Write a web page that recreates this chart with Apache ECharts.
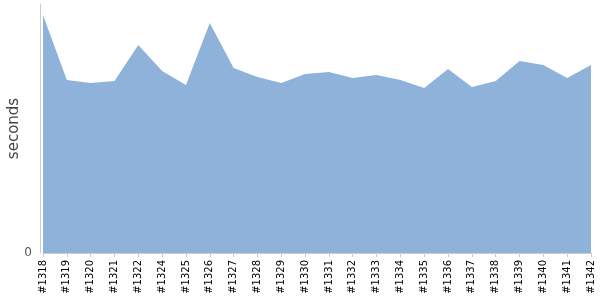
<!DOCTYPE html>
<html><head><meta charset="utf-8">
<script src="https://cdn.jsdelivr.net/npm/echarts@6/dist/echarts.min.js"></script>
<style>html,body{margin:0;padding:0;background:#fff}#c{width:600px;height:300px}</style>
</head><body><div id="c"></div>
<script>
const categories = ['#1318','#1319','#1320','#1321','#1322','#1324','#1325','#1326','#1327','#1328','#1329','#1330','#1331','#1332','#1333','#1334','#1335','#1336','#1337','#1338','#1339','#1340','#1341','#1342'];
const seconds = [238,173,170,172,208,182,168,230,185,176,170,179,181,175,178,173,165,184,166,172,192,188,175,188];
const yTickLabels = ['0'];

const chart = echarts.init(document.getElementById('c'));
chart.setOption({
  animation: false,
  textStyle: {fontFamily: 'DejaVu Sans'},
  grid: {left: 43, right: 9, top: 4, bottom: 47, containLabel: false, outerBoundsMode: 'none'},
  xAxis: {
    type: 'category', data: categories, boundaryGap: false,
    axisLine: {lineStyle: {color: '#cccccc'}},
    axisTick: {alignWithLabel: true, length: 4, lineStyle: {color: '#cccccc'}},
    axisLabel: {rotate: 90, fontSize: 10, color: '#000', interval: 0, margin: 7, fontFamily: 'DejaVu Sans'}
  },
  yAxis: {
    type: 'value', min: 0, max: 249, offset: 3,
    name: 'seconds', nameLocation: 'middle', nameGap: 18, nameMoveOverlap: false,
    nameTextStyle: {fontSize: 15, color: '#444', fontFamily: 'DejaVu Sans'},
    axisLine: {show: true, lineStyle: {color: '#cccccc'}},
    axisTick: {show: false},
    splitLine: {show: false},
    axisLabel: {fontSize: 12, color: '#555', margin: 8, formatter: v => v === 0 ? yTickLabels[0] : ''}
  },
  series: [{
    type: 'line', data: seconds, symbol: 'none',
    lineStyle: {width: 0},
    areaStyle: {color: '#8fb2da', opacity: 1}
  }]
});
</script></body></html>
